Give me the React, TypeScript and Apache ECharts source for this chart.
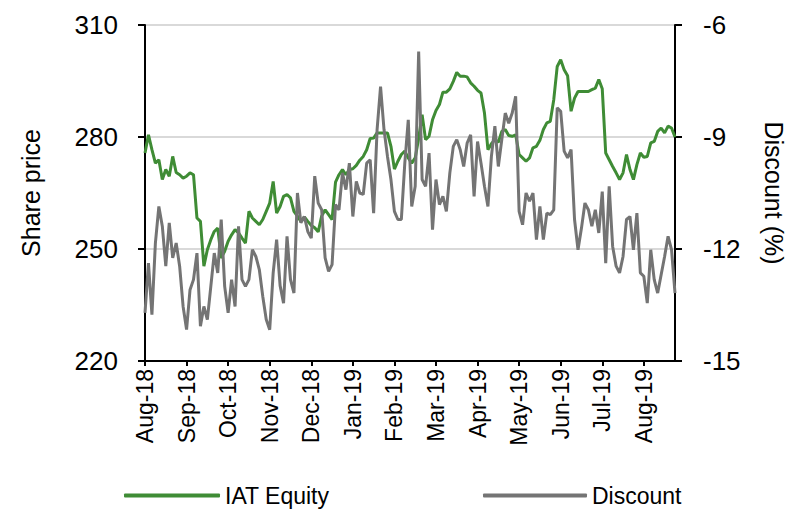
import React, { useEffect, useRef } from 'react';
import * as echarts from 'echarts';

// ---- Data ----
const months = ['Aug-18', 'Sep-18', 'Oct-18', 'Nov-18', 'Dec-18', 'Jan-19', 'Feb-19', 'Mar-19', 'Apr-19', 'May-19', 'Jun-19', 'Jul-19', 'Aug-19'];

// IAT Equity share price (left axis), sampled points within each month
const priceAug18 = [275.7, 280.6, 276.6, 273.0, 273.9, 268.6, 271.3, 269.5, 274.8, 270.5, 269.9, 269.0];
const priceSep18 = [269.5, 270.4, 269.9, 258.3, 257.4, 245.4, 249.8, 252.5, 254.7, 255.6, 247.6, 249.4];
const priceOct18 = [252.1, 253.8, 255.2, 254.3, 252.9, 251.6, 260.1, 258.3, 257.4, 256.5, 257.9, 260.1];
const priceNov18 = [262.3, 268.1, 259.6, 261.4, 264.1, 264.6, 263.7, 260.1, 258.8, 257.4, 258.6, 257.4];
const priceDec18 = [256.3, 255.7, 254.6, 258.8, 260.5, 259.2, 257.9, 267.9, 269.9, 271.3, 269.9, 271.3];
const priceJan19 = [271.5, 272.4, 273.8, 274.8, 276.6, 279.6, 279.7, 281.1, 281.1, 281.1, 281.1, 277.5];
const priceFeb19 = [271.4, 273.5, 275.3, 276.2, 274.4, 273.0, 274.4, 279.7, 286.0, 279.3, 280.2, 284.6];
const priceMar19 = [287.1, 288.7, 292.0, 292.0, 292.9, 294.9, 297.3, 296.3, 296.3, 296.1, 294.5, 293.6];
const priceApr19 = [292.5, 291.8, 286.4, 276.6, 278.2, 279.3, 278.6, 281.5, 282.0, 280.4, 280.2, 280.6];
const priceMay19 = [275.3, 274.4, 273.5, 274.4, 277.1, 277.5, 279.1, 282.0, 283.8, 284.2, 290.0, 298.9];
const priceJun19 = [300.7, 298.0, 296.4, 286.9, 290.4, 292.2, 292.2, 292.2, 292.2, 292.7, 293.1, 295.4];
const priceJul19 = [292.9, 275.7, 273.9, 272.1, 270.4, 268.6, 270.4, 275.3, 271.3, 268.6, 272.6, 275.7];
const priceAug19 = [274.6, 274.8, 278.4, 278.8, 281.5, 282.4, 281.1, 282.9, 282.4, 280.0];

// Discount (%) (right axis)
const discAug18 = [-13.71, -12.38, -13.76, -11.84, -10.86, -11.39, -12.46, -11.3, -12.24, -11.84, -12.46, -13.54];
const discSep18 = [-14.16, -13.09, -12.82, -12.11, -14.07, -13.54, -13.89, -13.0, -12.11, -12.64, -11.21, -13.0];
const discOct18 = [-13.71, -12.82, -13.54, -11.39, -12.82, -13.0, -12.82, -12.02, -12.2, -12.55, -13.27, -13.89];
const discNov18 = [-14.16, -12.64, -11.75, -12.98, -13.45, -11.66, -12.82, -13.18, -10.5, -11.3, -11.13, -11.53];
const discDec18 = [-11.71, -10.05, -10.77, -10.95, -12.24, -12.6, -12.42, -10.81, -10.95, -9.96, -10.41, -9.7];
const discJan19 = [-11.13, -10.19, -10.5, -10.54, -9.7, -9.61, -11.04, -8.8, -7.65, -8.8, -9.52, -10.14];
const discFeb19 = [-10.99, -11.21, -11.21, -9.7, -8.54, -10.86, -10.32, -6.71, -10.14, -10.32, -9.43, -11.48];
const discMar19 = [-10.14, -10.81, -10.59, -10.99, -9.96, -9.25, -9.07, -9.34, -9.79, -9.16, -8.94, -10.59];
const discApr19 = [-9.12, -9.7, -10.32, -10.86, -9.52, -8.71, -9.79, -9.07, -8.36, -8.63, -8.36, -7.91];
const discMay19 = [-10.99, -11.35, -10.5, -10.72, -10.5, -11.75, -10.86, -11.75, -11.04, -11.08, -10.95, -8.22];
const discJun19 = [-8.31, -9.38, -9.56, -9.34, -11.21, -12.02, -11.44, -10.77, -10.95, -11.39, -10.95, -11.57];
const discJul19 = [-10.46, -12.38, -10.32, -11.93, -12.46, -12.64, -12.2, -11.21, -11.13, -12.02, -11.04, -12.64];
const discAug19 = [-12.73, -13.45, -12.02, -12.82, -13.18, -12.69, -12.2, -11.66, -12.02, -13.18];

const leftTicks = [220, 250, 280, 310];
const rightTicks = [-15, -12, -9, -6];
const seriesNames = ['IAT Equity', 'Discount'];

const priceByMonth = [priceAug18, priceSep18, priceOct18, priceNov18, priceDec18, priceJan19, priceFeb19, priceMar19, priceApr19, priceMay19, priceJun19, priceJul19, priceAug19];
const discByMonth = [discAug18, discSep18, discOct18, discNov18, discDec18, discJan19, discFeb19, discMar19, discApr19, discMay19, discJun19, discJul19, discAug19];

const FONT = "'Liberation Sans', Arial, sans-serif";
const GREEN = '#3F8C35';
const GREY = '#747474';

export default function App() {
  const ref = useRef<HTMLDivElement>(null);

  useEffect(() => {
    document.body.style.margin = '0';
    if (!ref.current) return;
    const chart = echarts.init(ref.current, undefined, { renderer: 'svg' });

    const categories: string[] = [];
    months.forEach((m, k) => {
      priceByMonth[k].forEach((_, j) => categories.push(j === 0 ? m : `${m}#${j}`));
    });
    const price = priceByMonth.flat();
    const disc = discByMonth.flat();
    const isMonthStart = (_: number, v: string) => !String(v).includes('#');

    const legendCommon = {
      top: 484,
      padding: 0,
      itemHeight: 4,
      icon: 'roundRect',
      textStyle: { fontSize: 23, fontFamily: FONT, color: '#000' },
    };

    chart.setOption({
      animation: false,
      backgroundColor: '#ffffff',
      grid: { left: 145, right: 125, top: 25, bottom: 159, containLabel: false, outerBoundsMode: 'none' },
      legend: [
        { ...legendCommon, data: [{ name: seriesNames[0], itemStyle: { color: GREEN } }], left: 124, itemWidth: 96, itemGap: 8 },
        { ...legendCommon, data: [{ name: seriesNames[1], itemStyle: { color: GREY } }], left: 483, itemWidth: 104, itemGap: 8 },
      ],
      xAxis: {
        type: 'category',
        data: categories,
        boundaryGap: false,
        axisLine: { show: true, lineStyle: { color: '#000', width: 2 } },
        axisTick: { show: true, interval: isMonthStart, length: 5, lineStyle: { color: '#000', width: 2 } },
        axisLabel: {
          interval: isMonthStart,
          rotate: 90,
          margin: 8,
          fontSize: 23,
          fontFamily: FONT,
          color: '#000',
          formatter: (v: string) => (v.includes('#') ? '' : v),
        },
        splitLine: { show: false },
      },
      yAxis: [
        {
          type: 'value',
          position: 'left',
          min: leftTicks[0],
          max: leftTicks[leftTicks.length - 1],
          interval: leftTicks[1] - leftTicks[0],
          name: 'Share price',
          nameLocation: 'middle',
          nameRotate: 90,
          nameGap: 102,
          nameTextStyle: { fontSize: 25, fontFamily: FONT, color: '#000' },
          axisLine: { show: true, lineStyle: { color: '#000', width: 2 } },
          axisTick: { show: true, length: 7, lineStyle: { color: '#000', width: 2 } },
          axisLabel: { margin: 27, fontSize: 26, fontFamily: FONT, color: '#000' },
          splitLine: { show: true, lineStyle: { color: '#D9D9D9', width: 2 } },
        },
        {
          type: 'value',
          position: 'right',
          min: rightTicks[0],
          max: rightTicks[rightTicks.length - 1],
          interval: rightTicks[1] - rightTicks[0],
          name: 'Discount (%)',
          nameLocation: 'middle',
          nameRotate: -90,
          nameGap: 86,
          nameTextStyle: { fontSize: 25, fontFamily: FONT, color: '#000' },
          axisLine: { show: true, lineStyle: { color: '#000', width: 2 } },
          axisTick: { show: true, length: 7, lineStyle: { color: '#000', width: 2 } },
          axisLabel: { margin: 28, fontSize: 26, fontFamily: FONT, color: '#000' },
          splitLine: { show: false },
        },
      ],
      series: [
        {
          name: seriesNames[0],
          type: 'line',
          yAxisIndex: 0,
          data: price,
          symbol: 'none',
          color: GREEN,
          lineStyle: { width: 3, color: GREEN },
        },
        {
          name: seriesNames[1],
          type: 'line',
          yAxisIndex: 1,
          data: disc,
          symbol: 'none',
          color: GREY,
          lineStyle: { width: 3, color: GREY },
        },
      ],
    });

    return () => chart.dispose();
  }, []);

  return <div ref={ref} style={{ width: 800, height: 520 }} />;
}
